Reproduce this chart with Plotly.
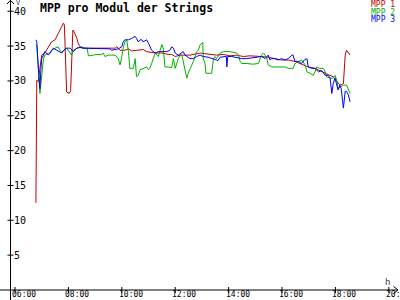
import plotly.graph_objects as go

# ---------------- data ----------------
red_t = ["06:47","06:48","06:49","06:52","07:00","07:07","07:15","07:22","07:30","07:37","07:45","07:49","07:51","07:56","08:02","08:05","08:10","08:13","08:19","08:22","08:26","08:33","08:45","08:52","09:04","09:15","09:33","09:45","09:49","09:56","10:07","10:15","10:22","10:37","10:48","10:56","11:07","11:15","11:30","11:44","11:52","12:00","12:11","12:22","12:33","12:56","13:07","13:18","13:33","13:48","14:03","14:18","14:33","14:48","15:11","15:14","15:29","15:44","15:59","16:14","16:29","16:44","16:59","17:14","17:29","17:44","17:55","18:03","18:10","18:18","18:22","18:25","18:29","18:33"]
red_v = [12.5,20.1,30.1,29.9,33.7,34.0,34.9,35.6,35.9,36.8,37.8,38.3,38.0,28.4,28.2,28.6,37.3,37.0,36.1,35.4,34.9,34.7,34.7,34.7,34.8,34.7,34.7,34.7,34.9,34.4,34.4,34.6,34.3,34.4,34.5,34.2,34.1,34.0,34.0,33.8,33.8,33.5,33.7,33.7,33.7,34.0,33.9,33.9,33.7,33.8,33.6,33.7,33.5,33.6,33.6,33.5,33.4,33.2,33.0,33.0,32.8,32.4,32.0,31.8,31.3,30.9,30.6,29.9,29.4,29.6,33.7,34.4,34.0,33.7]

green_t = ["06:47","06:49","06:56","07:04","07:07","07:15","07:19","07:22","07:30","07:37","07:41","07:45","07:49","07:56","08:04","08:07","08:11","08:19","08:30","08:37","08:42","08:45","08:56","09:04","09:15","09:18","09:22","09:30","09:37","09:45","09:52","09:56","10:00","10:03","10:07","10:11","10:15","10:18","10:26","10:30","10:33","10:37","10:41","10:48","10:56","11:00","11:03","11:07","11:11","11:15","11:22","11:26","11:30","11:33","11:37","11:44","11:52","11:56","12:00","12:07","12:11","12:15","12:18","12:22","12:26","12:29","12:33","12:41","12:48","12:52","12:56","13:00","13:02","13:03","13:07","13:09","13:14","13:22","13:26","13:29","13:33","13:41","13:48","14:03","14:18","14:22","14:26","14:29","14:41","14:55","15:07","15:14","15:18","15:22","15:26","15:29","15:37","15:52","16:07","16:14","16:25","16:29","16:37","16:44","16:52","16:56","17:03","17:10","17:14","17:18","17:25","17:33","17:37","17:40","17:48","17:55","17:59","18:03","18:06","18:13","18:18","18:25","18:29","18:33"]
green_v = [35.2,35.0,28.2,33.2,33.7,34.0,34.0,34.4,34.7,34.9,34.4,34.1,34.3,34.7,34.0,33.7,34.4,34.7,34.9,34.7,34.7,33.6,33.7,33.8,33.8,34.0,33.5,33.7,33.7,33.7,33.2,32.3,33.5,34.7,35.6,35.9,34.2,31.8,31.8,33.2,30.6,30.8,31.6,31.8,32.0,31.6,31.8,32.5,33.2,34.0,33.5,34.4,35.2,34.7,32.0,32.0,31.9,33.2,31.8,33.2,33.7,33.7,32.8,31.8,30.4,31.1,31.6,32.8,34.2,34.4,35.2,35.4,35.5,33.2,32.5,31.1,31.1,31.1,33.2,33.5,33.2,34.0,34.2,34.2,34.0,33.7,32.8,32.5,32.5,32.4,32.5,33.7,34.0,33.7,33.2,32.3,32.0,32.0,32.0,31.8,31.8,32.5,32.8,33.0,32.3,31.3,31.1,30.8,31.3,32.0,31.8,31.8,31.3,30.6,30.4,30.4,30.8,30.1,28.9,29.2,29.4,29.4,28.9,28.2]

blue_t = ["06:47","06:49","06:52","06:55","06:56","06:58","07:00","07:04","07:07","07:11","07:15","07:19","07:22","07:26","07:34","07:41","07:45","07:49","07:56","08:04","08:11","08:19","08:26","08:33","08:41","08:49","08:56","09:04","09:18","09:33","09:37","09:52","10:00","10:03","10:07","10:15","10:22","10:30","10:33","10:37","10:41","10:45","10:48","10:56","11:00","11:07","11:15","11:22","11:33","11:41","11:48","11:52","11:56","12:00","12:07","12:11","12:18","12:22","12:33","12:41","12:48","12:56","13:03","13:14","13:26","13:33","13:36","13:41","13:52","13:55","13:56","13:58","14:07","14:18","14:29","14:41","14:55","15:07","15:14","15:22","15:29","15:33","15:37","15:44","15:52","15:59","16:07","16:14","16:22","16:25","16:29","16:37","16:44","16:50","16:56","16:59","17:07","17:14","17:22","17:29","17:37","17:44","17:48","17:52","17:55","17:59","18:03","18:06","18:10","18:13","18:18","18:22","18:25","18:29","18:33"]
blue_v = [35.9,35.6,32.3,29.9,28.9,31.5,33.2,33.7,34.2,34.0,33.7,34.0,34.4,34.7,34.4,34.2,34.0,34.4,34.7,34.7,34.2,34.7,34.8,34.7,34.7,34.7,34.6,34.7,34.7,34.6,34.4,34.6,34.9,35.6,35.9,35.9,36.1,36.4,36.1,35.6,35.9,35.9,35.6,35.9,35.4,34.4,34.0,34.2,34.2,34.2,34.4,34.9,34.7,34.0,33.7,33.9,34.2,33.7,33.2,33.2,33.5,33.7,33.5,33.4,33.2,33.0,32.9,33.4,33.5,33.5,32.0,33.5,33.5,33.4,33.2,33.2,33.3,33.4,33.5,33.2,33.7,33.0,33.2,33.2,33.0,33.2,33.0,33.2,33.7,33.7,32.8,32.8,32.5,33.0,33.2,32.0,31.8,31.8,31.3,31.5,30.8,30.8,30.4,28.2,29.6,30.4,29.4,28.7,29.4,28.9,26.1,28.5,28.5,28.0,27.0]

series_names = ["MPP 1", "MPP 2", "MPP 3"]
series_colors = ["#c00000", "#00b000", "#0000ff"]

y_ticks = [5, 10, 15, 20, 25, 30, 35, 40]
x_ticks = [6, 8, 10, 12, 14, 16, 18, 20]
x_tick_labels = ["06:00", "08:00", "10:00", "12:00", "14:00", "16:00", "18:00", "20:00"]

title = "MPP pro Modul der Strings"

# ---------------- layout helpers ----------------
W, H = 400, 300
X0, X1 = 5.438, 20.419
Y0, Y1 = -1.435, 41.61

def hours(s):
    h, m = s.split(":")
    return int(h) + int(m) / 60.0

def pxp(xpx):  # pixel -> paper x
    return xpx / W

def pyp(ypx):  # pixel -> paper y
    return 1 - ypx / H

axis_t = X0 + 10.5 / W * (X1 - X0)

fig = go.Figure()
for t, v, name, col in zip([red_t, green_t, blue_t], [red_v, green_v, blue_v],
                           series_names, series_colors):
    fig.add_trace(go.Scatter(x=[hours(s) for s in t], y=v, mode="lines",
                             name=name, line=dict(color=col, width=1),
                             hoverinfo="skip", showlegend=False))

shapes = []
# x axis line + arrow
shapes.append(dict(type="line", xref="paper", yref="y", x0=0, x1=pxp(398), y0=0, y1=0,
                   line=dict(color="black", width=1)))
shapes.append(dict(type="path", xref="paper", yref="paper",
                   path=f"M {pxp(393.5)} {pyp(286.5)} L {pxp(398)} {pyp(290)} L {pxp(393.5)} {pyp(293.5)}",
                   line=dict(color="black", width=1)))
# y axis line + arrow
shapes.append(dict(type="line", xref="x", yref="paper", x0=axis_t, x1=axis_t, y0=0, y1=1,
                   line=dict(color="black", width=1)))
shapes.append(dict(type="path", xref="paper", yref="paper",
                   path=f"M {pxp(7)} {pyp(4)} L {pxp(10.5)} {pyp(0.3)} L {pxp(14)} {pyp(4)}",
                   line=dict(color="black", width=1)))
# ticks
for v in y_ticks:
    shapes.append(dict(type="line", xref="paper", yref="y", x0=pxp(7.5), x1=pxp(13.5), y0=v, y1=v,
                       line=dict(color="black", width=1)))
for t in x_ticks:
    shapes.append(dict(type="line", xref="x", yref="paper", x0=t, x1=t, y0=pyp(287), y1=pyp(293),
                       line=dict(color="black", width=1)))

annotations = []
for v in y_ticks:
    annotations.append(dict(x=axis_t, y=v, xref="x", yref="y", text=str(v), showarrow=False,
                            xanchor="left", yanchor="middle", xshift=2, borderpad=0,
                            font=dict(family="DejaVu Sans Mono", size=10, color="black")))
for t, lab in zip(x_ticks, x_tick_labels):
    annotations.append(dict(x=t, y=0, xref="x", yref="paper", text=lab, showarrow=False,
                            xanchor="left", yanchor="bottom", xshift=-4, yshift=0, borderpad=0,
                            font=dict(family="DejaVu Sans Mono", size=8, color="black")))
annotations.append(dict(x=pxp(40), y=pyp(7.5), xref="paper", yref="paper", text="<b>" + title + "</b>",
                        showarrow=False, xanchor="left", yanchor="middle", xshift=-1, borderpad=0,
                        font=dict(family="DejaVu Sans Mono", size=11.5, color="black")))
for i, (name, col) in enumerate(zip(series_names, series_colors)):
    annotations.append(dict(x=pxp(395), y=pyp(4.2 + 7.8 * i), xref="paper", yref="paper", text=name,
                            showarrow=False, xanchor="right", yanchor="middle", xshift=1, borderpad=0,
                            font=dict(family="DejaVu Sans Mono", size=8, color=col)))
annotations.append(dict(x=pxp(18.5), y=pyp(3), xref="paper", yref="paper", text="V", showarrow=False,
                        xanchor="center", yanchor="middle", borderpad=0,
                        font=dict(family="DejaVu Sans Mono", size=7)))
annotations.append(dict(x=pxp(387.5), y=pyp(282), xref="paper", yref="paper", text="h", showarrow=False,
                        xanchor="center", yanchor="middle", borderpad=0,
                        font=dict(family="DejaVu Sans Mono", size=9)))

fig.update_layout(
    width=W, height=H, margin=dict(l=0, r=0, t=0, b=0),
    paper_bgcolor="white", plot_bgcolor="white",
    xaxis=dict(range=[X0, X1], visible=False, fixedrange=True),
    yaxis=dict(range=[Y0, Y1], visible=False, fixedrange=True),
    shapes=shapes, annotations=annotations, showlegend=False,
)
fig.write_html("out.html")
